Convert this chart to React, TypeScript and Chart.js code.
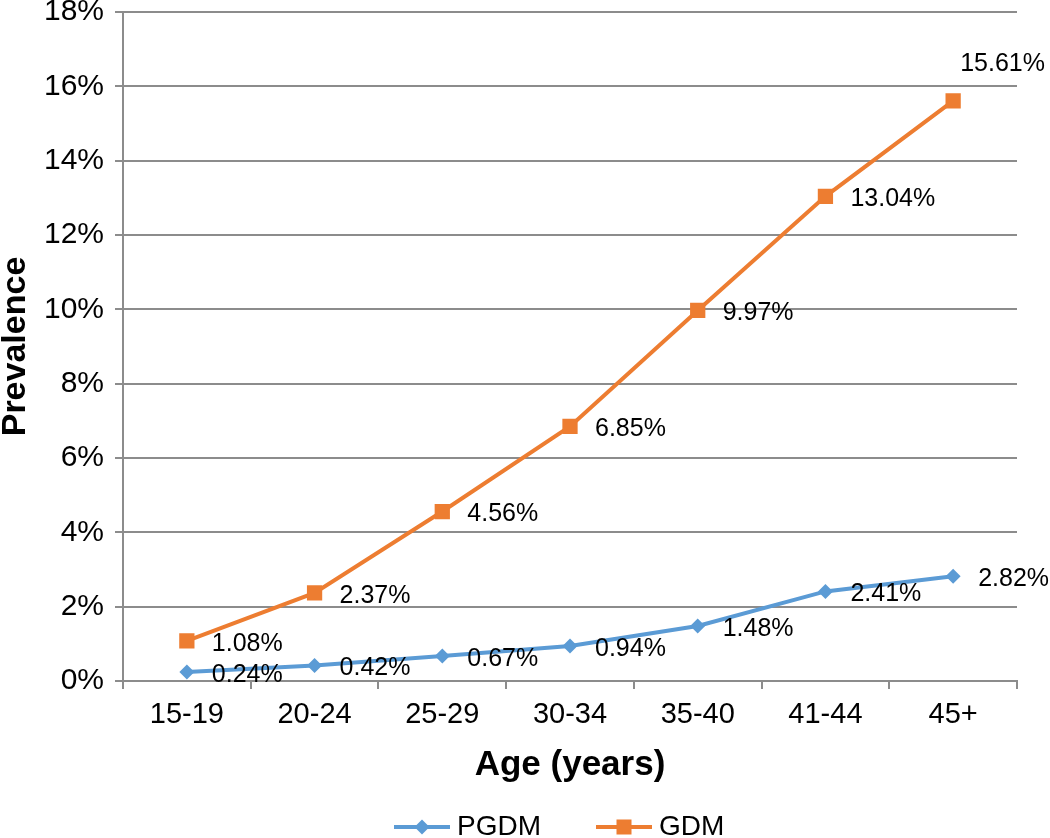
import React, { useEffect, useRef } from "react";
import { Chart, registerables } from "chart.js";

Chart.register(...registerables);

const categories = ["15-19", "20-24", "25-29", "30-34", "35-40", "41-44", "45+"];
const pgdmValues = [0.24, 0.42, 0.67, 0.94, 1.48, 2.41, 2.82];
const gdmValues = [1.08, 2.37, 4.56, 6.85, 9.97, 13.04, 15.61];
const seriesNames = ["PGDM", "GDM"];
const yTickMax = 18;
const yTickStep = 2;

const BLUE = "#5B9BD5";
const ORANGE = "#ED7D31";
const GRID = "#8c8c8c";
const FONT = "'Liberation Sans', Arial, Helvetica, sans-serif";

const dataLabelPlugin = {
  id: "dataLabels",
  afterDatasetsDraw(chart: any) {
    const ctx = chart.ctx;
    ctx.save();
    ctx.font = `25px ${FONT}`;
    ctx.fillStyle = "#000";
    ctx.textAlign = "left";
    ctx.textBaseline = "middle";
    chart.data.datasets.forEach((ds: any, di: number) => {
      const meta = chart.getDatasetMeta(di);
      meta.data.forEach((pt: any, i: number) => {
        const txt = `${Number(ds.data[i]).toFixed(2)}%`;
        const w = ctx.measureText(txt).width;
        let x = pt.x + 25;
        let y = pt.y + 3;
        if (x + w > chart.width) {
          x = pt.x + 7;
          y = pt.y - 37;
        }
        ctx.fillText(txt, x, y);
      });
    });
    ctx.restore();
  },
};

const legendPlugin = {
  id: "customLegend",
  afterDraw(chart: any) {
    const ctx = chart.ctx;
    ctx.save();
    ctx.font = `28px ${FONT}`;
    ctx.textBaseline = "middle";
    ctx.textAlign = "left";
    const y = 827;
    let x = 394;
    chart.data.datasets.forEach((ds: any) => {
      ctx.strokeStyle = ds.borderColor;
      ctx.lineWidth = 4;
      ctx.beginPath();
      ctx.moveTo(x, y);
      ctx.lineTo(x + 56, y);
      ctx.stroke();
      ctx.fillStyle = ds.borderColor;
      const cx = x + 28;
      if (ds.pointStyle === "rectRot") {
        const r = 7.5;
        ctx.beginPath();
        ctx.moveTo(cx - r, y);
        ctx.lineTo(cx, y - r);
        ctx.lineTo(cx + r, y);
        ctx.lineTo(cx, y + r);
        ctx.closePath();
        ctx.fill();
      } else {
        ctx.fillRect(cx - 7.5, y - 7.5, 15, 15);
      }
      ctx.fillStyle = "#000";
      ctx.fillText(ds.label, x + 63, y);
      const w = ctx.measureText(ds.label).width;
      x = x + 63 + w + 55;
    });
    ctx.restore();
  },
};

export default function App() {
  const canvasRef = useRef<HTMLCanvasElement | null>(null);

  useEffect(() => {
    if (!canvasRef.current) return;
    const chart = new Chart(canvasRef.current, {
      type: "line",
      data: {
        labels: categories,
        datasets: [
          {
            label: seriesNames[0],
            data: pgdmValues,
            borderColor: BLUE,
            backgroundColor: BLUE,
            borderWidth: 4,
            pointStyle: "rectRot",
            pointRadius: 7.5,
            pointBorderWidth: 0,
            tension: 0,
          },
          {
            label: seriesNames[1],
            data: gdmValues,
            borderColor: ORANGE,
            backgroundColor: ORANGE,
            borderWidth: 4,
            pointStyle: "rect",
            pointRadius: 10.8,
            pointBorderWidth: 0,
            tension: 0,
          },
        ],
      },
      options: {
        responsive: false,
        animation: false,
        layout: { padding: { top: 12, right: 33, left: 0, bottom: 0 } },
        plugins: {
          legend: { display: false },
          tooltip: { enabled: false },
        },
        scales: {
          x: {
            offset: true,
            grid: {
              offset: true,
              drawOnChartArea: false,
              drawTicks: true,
              tickLength: 8,
              color: GRID,
              lineWidth: 2,
            },
            border: { color: GRID, width: 2 },
            ticks: {
              color: "#000",
              font: { family: FONT, size: 29 },
              padding: 9,
              maxRotation: 0,
            },
            title: {
              display: true,
              text: "Age (years)",
              color: "#000",
              font: { family: FONT, size: 35, weight: "bold" },
              padding: { top: 0, bottom: 52 },
            },
            afterFit(scale: any) {
              scale.height = 157;
              scale.paddingLeft = 0;
              scale.paddingRight = 0;
            },
          },
          y: {
            min: 0,
            max: yTickMax,
            grid: {
              color: GRID,
              lineWidth: 2,
              tickLength: 8,
            },
            border: { color: GRID, width: 2 },
            ticks: {
              stepSize: yTickStep,
              color: "#000",
              font: { family: FONT, size: 30 },
              padding: 11,
              callback: (v: any) => `${v}%`,
            },
            title: {
              display: true,
              text: "Prevalence",
              color: "#000",
              font: { family: FONT, size: 34, weight: "bold", lineHeight: 1 },
              padding: { top: -1, bottom: 0 },
            },
            afterFit(scale: any) {
              scale.width = 123;
              scale.paddingTop = 0;
              scale.paddingBottom = 0;
            },
          },
        },
      },
      plugins: [dataLabelPlugin, legendPlugin],
    });
    return () => chart.destroy();
  }, []);

  return (
    <div style={{ position: "absolute", left: 0, top: 0, width: 1050, height: 838, background: "#fff" }}>
      <canvas ref={canvasRef} width={1050} height={838} style={{ display: "block" }} />
    </div>
  );
}
